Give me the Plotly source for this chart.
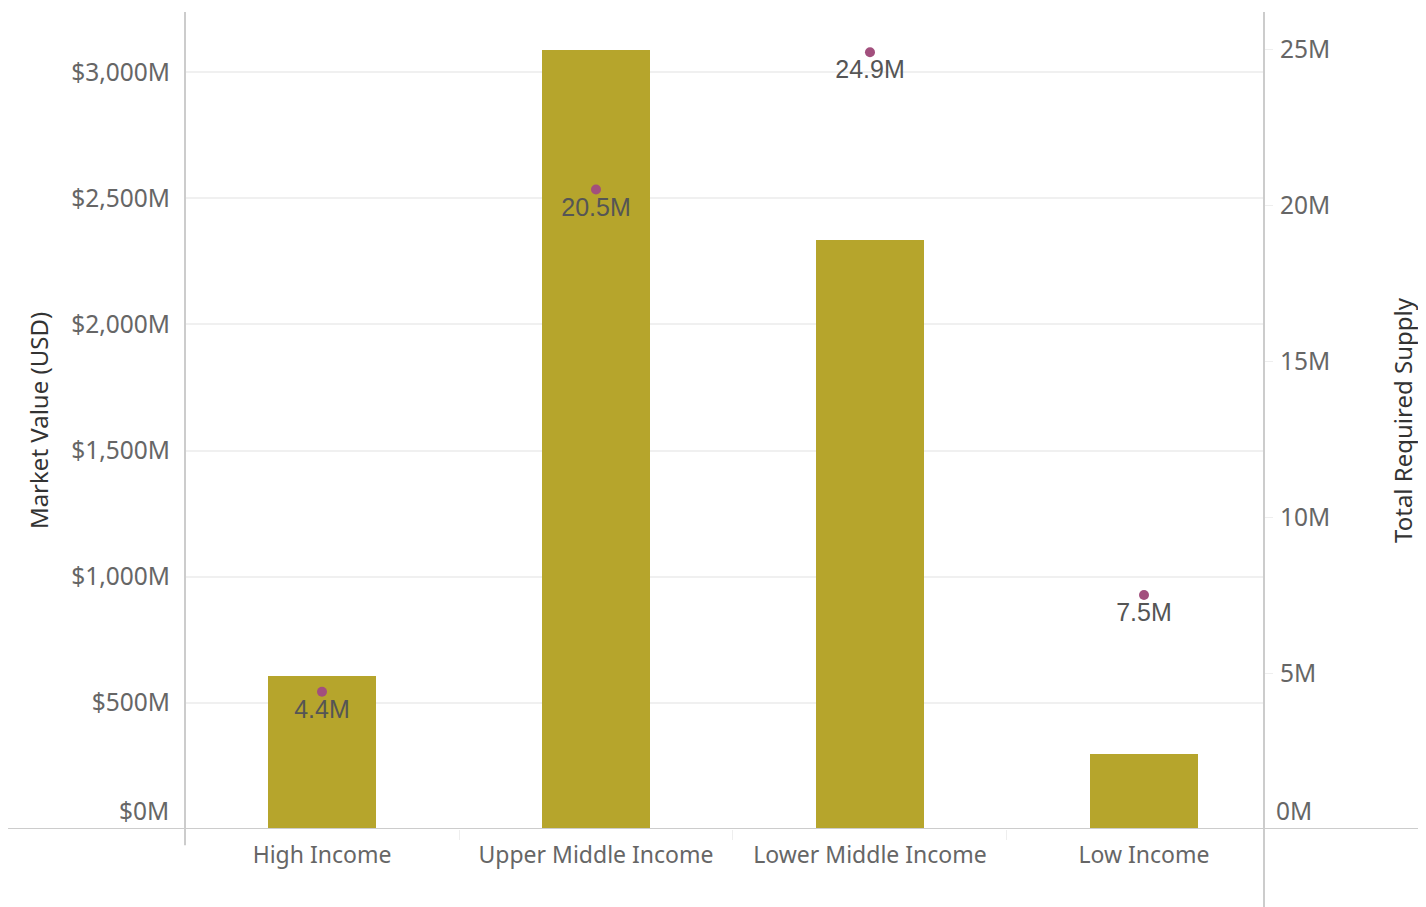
import plotly.graph_objects as go

categories = ["High Income", "Upper Middle Income", "Lower Middle Income", "Low Income"]
market_value_musd = [606, 3088, 2334, 297]
required_supply_m = [4.4, 20.5, 24.9, 7.5]
supply_labels = ["4.4M", "20.5M", "24.9M", "7.5M"]
left_ticks = [0, 500, 1000, 1500, 2000, 2500, 3000]
left_tick_text = ["$0M", "$500M", "$1,000M", "$1,500M", "$2,000M", "$2,500M", "$3,000M"]
right_ticks = [0, 5, 10, 15, 20, 25]
right_tick_text = ["0M", "5M", "10M", "15M", "20M", "25M"]

FONT = "Noto Sans"
GREY = "#666666"

fig = go.Figure()
fig.add_trace(go.Bar(
    x=categories, y=market_value_musd, width=0.394,
    marker=dict(color="#b6a52c", line=dict(width=0)),
    yaxis="y", showlegend=False, hoverinfo="skip",
))
fig.add_trace(go.Scatter(
    x=categories, y=required_supply_m, mode="markers+text",
    text=supply_labels, textposition="bottom center",
    textfont=dict(family="Liberation Sans", size=25, color="#555555"),
    marker=dict(color="#a24f7d", size=10),
    yaxis="y2", showlegend=False, hoverinfo="skip", cliponaxis=False,
))

tickfont = dict(family=FONT, size=24.5, color=GREY)

fig.update_layout(
    width=1426, height=907,
    margin=dict(l=177, r=170, t=4, b=86),
    paper_bgcolor="white", plot_bgcolor="white",
    font=dict(family=FONT, color=GREY),
    bargap=0,
    xaxis=dict(
        type="category", range=[-0.5, 3.438],
        showgrid=False, showline=False, zeroline=False,
        ticks="outside", tickson="boundaries", ticklen=10, tickcolor="#eeeeee",
        tickfont=dict(family=FONT, size=23, color=GREY),
        ticklabelstandoff=10,
    ),
    yaxis=dict(
        range=[0, 3238], tickvals=left_ticks[1:], ticktext=left_tick_text[1:],
        showgrid=True, gridcolor="#f0f0f0", gridwidth=2,
        zeroline=False, showline=False, ticks="",
        tickfont=tickfont,
        ticklabelstandoff=14,
        title=dict(text="Market Value (USD)", standoff=15,
                   font=dict(family=FONT, size=24, color="#333333")),
    ),
    yaxis2=dict(
        overlaying="y", side="right", range=[0, 26.19],
        tickvals=right_ticks[1:], ticktext=right_tick_text[1:],
        showgrid=False, zeroline=False, showline=False,
        ticks="outside", ticklen=8, tickcolor="#eeeeee",
        tickfont=tickfont,
        ticklabelstandoff=2,
        title=dict(text="Total Required Supply", standoff=66,
                   font=dict(family=FONT, size=24, color="#333333")),
    ),
    annotations=[
        dict(text=left_tick_text[0], xref="paper", yref="y", x=0, y=left_ticks[0],
             xanchor="right", yanchor="bottom", xshift=-14, yshift=0,
             showarrow=False, font=tickfont),
        dict(text=right_tick_text[0], xref="paper", yref="y2", x=1, y=right_ticks[0],
             xanchor="left", yanchor="bottom", xshift=10, yshift=0,
             showarrow=False, font=tickfont),
    ],
    shapes=[
        dict(type="line", xref="paper", yref="y", x0=-0.164, x1=1.17, y0=0, y1=0,
             line=dict(color="#cccccc", width=2), layer="above"),
        dict(type="line", xref="paper", yref="paper", x0=0, x1=0, y0=-0.02, y1=1,
             line=dict(color="#cccccc", width=2), layer="above"),
        dict(type="line", xref="paper", yref="paper", x0=1, x1=1, y0=-0.0955, y1=1,
             line=dict(color="#cccccc", width=2), layer="above"),
    ],
)

fig.write_html("out.html")
